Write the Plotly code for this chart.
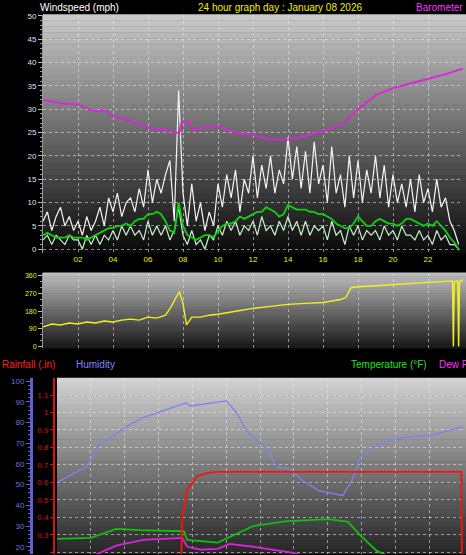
import plotly.graph_objects as go

W, H = 466, 555
def px(x): return x / W
def py(y): return 1 - y / H

# ---------------- data ----------------
t15 = [i * 0.25 for i in range(96)]
gust = [6,8,4,7, 9,5,7,4, 6,3,7,4, 6,9,5,11, 8,12,7,10, 11,8,13,9, 17,10,15,12,
        16,19,6,34, 12,5,14,6, 10,4,8,5, 14,9,16,11, 17,8,15,12, 20,11,18,13,
        20,12,17,14, 24,15,22,13, 21,12,23,14, 18,10,22,12, 16,9,20,11, 19,10,17,12,
        20,11,18,9, 16,10,14,9, 15,8,16,10, 13,8,15,9, 11,6,4,1]
speed = [2,3,1,3, 2,1,3,2, 2,0,3,1, 3,1,3,2, 4,2,5,3, 5,3,4,2, 6,3,5,3, 5,2,4,9,
         3,1,4,1, 2,0,3,2, 5,3,6,4, 6,3,5,4, 6,3,7,4, 5,3,6,4, 7,4,6,3, 6,3,5,4,
         5,2,6,3, 4,1,5,3, 5,2,4,3, 4,2,5,3, 4,2,5,3, 3,2,4,2, 3,1,4,2, 3,1,1,0]
avg = [3,3.5,3,2.5, 2.5,2.5,3,2.5, 2.5,2.5,2,2.5, 3,3.5,4,4.5, 4.5,5,5,5.5, 5,6,6.5,6.5,
       7.5,7.5,8,7.5, 6,4,3.5,10, 5,3,2.5,2, 2.5,3,3,2.5, 4,5,5.5,5.5, 6,7,6.5,7,
       7.5,8,8,9, 8.5,8,7,7.5, 9.5,9,8.5,8.5, 8.5,8,8,7.5, 7.5,7,6.5,5.5, 5,4.5,4.5,5.5,
       7,6,5,5, 6,6.5,6,5.5, 5.5,5,5.5,6.5, 6.5,6,5.5,5, 5.5,5,6,5, 4,2.5,1.5,0]
baro_t = [0,1,2,3,3.5,4,5,6,7,7.8,7.9,8.3,8.6,9,10,11,12,13,14,15,16,17,18,19,20,21,22,23,24]
baro = [32,31.3,31,29.5,29.8,28.5,27.5,26,25.5,24.8,27,27.5,25.5,26,26.3,25,24.5,23.5,23.5,
        24.3,25.3,26.5,30,33,34.5,35.5,36.5,37.5,38.7]

dir_t = [0,0.5,1,1.5,2,2.5,3,3.5,4,4.5,5,5.5,6,6.5,7,7.3,7.6,7.8,8,8.2,8.5,9,9.5,10,11,12,13,
         14,15,16,17,17.3,17.6,18,19,20,21,22,23,23.4,23.45,23.5,23.7,23.75,23.8,24]
wdir = [100,115,110,120,115,125,120,130,125,135,140,135,150,145,160,200,250,280,220,110,150,150,
        160,165,180,195,205,215,220,225,240,250,300,305,310,315,320,325,330,335,0,330,335,0,330,340]

hum_t = [0,1.8,2.4,4.3,5.1,6.7,7.6,7.9,9.4,10,10.6,11.2,12.4,13,13.8,14.5,15.5,16.9,17.5,17.9,
         18.9,20.5,22.2,23.8,24]
hum = [51,59,68.6,79,82.4,87,89.5,88,90,90.5,85,76,67,58.5,57.6,52,47,44.8,53,63,69.5,73,74,77.6,78]
temp_t = [0,2,3.5,4.9,7.5,7.7,9.5,11.6,13.6,16.1,17.2,17.9,18.9,20,24]
temp = [23.8,24.3,28.6,28,27.5,23.3,22,30,32.4,33.3,32,25.7,18,14,12]
dew_t = [0,2,2.5,3.5,5.1,7.4,7.7,8.5,9.5,10.2,11.6,13.4,14,16,24]
dew = [12,15,17,20.5,23.3,24.3,20,18.6,19,21.4,20,17.6,17,12,8]
rain_t = [0,7.3,7.4,7.7,8.3,8.9,9.5,23.9,23.95,24]
rain = [0,0,0.394,0.563,0.637,0.654,0.66,0.66,0,0]

xticks = list(range(2, 25, 2))
xtext = ["%02d" % (h % 24) for h in xticks]

# ---------------- figure ----------------
fig = go.Figure()
font = "Liberation Sans"

shapes = []
def gradient(x0, x1, y0, y1, ctop, cbot, n=40):
    for i in range(n):
        f = i / (n - 1)
        c = [int(ctop[k] + (cbot[k] - ctop[k]) * f) for k in range(3)]
        ya = y0 + (y1 - y0) * i / n
        yb = y0 + (y1 - y0) * (i + 1) / n
        shapes.append(dict(type="rect", xref="paper", yref="paper", x0=px(x0), x1=px(x1),
                           y0=py(yb), y1=py(ya) + 0.001, fillcolor="rgb(%d,%d,%d)" % tuple(c),
                           line_width=0, layer="below"))
gradient(43, 466, 12, 252, (200, 200, 200), (12, 12, 12))
gradient(43, 466, 272, 348, (190, 190, 190), (25, 25, 25))
gradient(57, 466, 378, 555, (210, 210, 210), (40, 40, 40))

D1x = [px(43), px(463)]
D3x = [px(57), px(463)]
grid = dict(showgrid=True, gridcolor="rgba(235,235,235,0.55)", griddash="dot", gridwidth=1)

fig.add_trace(go.Scatter(x=t15, y=gust, mode="lines", line=dict(color="#f4f4f4", width=1.2),
                         xaxis="x", yaxis="y"))
fig.add_trace(go.Scatter(x=t15, y=speed, mode="lines", line=dict(color="#c8f0c8", width=1.2),
                         xaxis="x", yaxis="y"))
fig.add_trace(go.Scatter(x=t15, y=avg, mode="lines", line=dict(color="#10d010", width=1.8),
                         xaxis="x", yaxis="y"))
fig.add_trace(go.Scatter(x=baro_t, y=baro, mode="lines", line=dict(color="#e020e0", width=1.8),
                         xaxis="x", yaxis="y"))
fig.add_trace(go.Scatter(x=dir_t, y=wdir, mode="lines", line=dict(color="#f0f020", width=1.4),
                         xaxis="x2", yaxis="y2"))
fig.add_trace(go.Scatter(x=hum_t, y=hum, mode="lines", line=dict(color="#8080ee", width=1.3),
                         xaxis="x3", yaxis="y3"))
fig.add_trace(go.Scatter(x=temp_t, y=temp, mode="lines", line=dict(color="#10c010", width=1.8),
                         xaxis="x3", yaxis="y3"))
fig.add_trace(go.Scatter(x=dew_t, y=dew, mode="lines", line=dict(color="#e020e0", width=1.8),
                         xaxis="x3", yaxis="y3"))
fig.add_trace(go.Scatter(x=rain_t, y=rain, mode="lines", line=dict(color="#ff1010", width=1.8),
                         xaxis="x3", yaxis="y4"))

fig.update_layout(
    width=W, height=H, margin=dict(l=0, r=0, t=0, b=0), showlegend=False,
    paper_bgcolor="black", plot_bgcolor="rgba(0,0,0,0)", shapes=shapes,
    xaxis=dict(domain=D1x, range=[0, 24], anchor="y", tickvals=xticks, ticktext=xtext,
               tickfont=dict(family=font, size=8, color="#f0f000"), ticks="", zeroline=False, **grid),
    yaxis=dict(domain=[py(252), py(12)], range=[-0.85, 50.2], tickvals=list(range(0, 51, 5)),
               tickfont=dict(family=font, size=8, color="#d8e4ff"), ticks="outside", ticklen=4,
               tickcolor="#bbbbbb", showline=True, linecolor="#999999",
               minor=dict(ticks="outside", ticklen=2, dtick=1, tickcolor="#999999"), zeroline=False, **grid),
    xaxis2=dict(domain=D1x, range=[0, 24], anchor="y2", tickvals=xticks, showticklabels=False, ticks="",
                zeroline=False, **grid),
    yaxis2=dict(domain=[py(348), py(272)], range=[-10, 375], tickvals=[0, 90, 180, 270, 360],
                tickfont=dict(family=font, size=7, color="#f0f000"), ticks="outside", ticklen=4,
                tickcolor="#bbbbbb", showline=True, linecolor="#999999",
                minor=dict(ticks="outside", ticklen=2, dtick=30, tickcolor="#999999"),
                zeroline=False, showgrid=False),
    xaxis3=dict(domain=D3x, range=[0, 24], anchor="y4", tickvals=xticks, showticklabels=False, ticks="",
                zeroline=False, **grid),
    yaxis3=dict(domain=[0, py(378)], range=[16.5, 101.4], anchor="free", position=px(31), side="left",
                tickvals=list(range(20, 101, 10)), tickfont=dict(family=font, size=8, color="#7070e0"),
                ticks="outside", ticklen=4, tickcolor="#6060d0", showline=True, linecolor="#6060d0",
                linewidth=3, minor=dict(ticks="outside", ticklen=2, dtick=2, tickcolor="#6060d0"),
                zeroline=False, showgrid=False),
    yaxis4=dict(domain=[0, py(378)], range=[0.19, 1.196], anchor="free", position=px(54), side="left",
                overlaying="y3", tickvals=[0.2, 0.3, 0.4, 0.5, 0.6, 0.7, 0.8, 0.9, 1, 1.1],
                ticktext=["0.2", "0.3", "0.4", "0.5", "0.6", "0.7", "0.8", "0.9", "1", "1.1"],
                tickfont=dict(family=font, size=8, color="#dd1010"), ticks="outside", ticklen=3,
                tickcolor="#dd1010", showline=True, linecolor="#dd1010", linewidth=2,
                zeroline=False, showgrid=True, gridcolor="rgba(235,235,235,0.55)", griddash="dot"),
)

def txt(x, y, s, color, anchor="left", size=10):
    fig.add_annotation(xref="paper", yref="paper", x=px(x), y=py(y), text=s, showarrow=False,
                       xanchor=anchor, yanchor="middle", font=dict(family=font, size=size, color=color))
txt(38, 5, "Windspeed (mph)", "white")
txt(280, 5, "24 hour graph day : January 08 2026", "#f0f000", "center")
txt(414, 5, "Barometer", "#ff30ff")
txt(0, 364, "Rainfall (.in)", "#ff2020")
txt(74, 364, "Humidity", "#8080ff")
txt(349, 364, "Temperature (°F)", "#20e020")
txt(437, 364, "Dew Point", "#ff30ff")

fig.write_html("out.html", config={"displayModeBar": False},
               post_script="document.body.style.margin='0';document.body.style.overflow='hidden';document.body.style.background='black';")
